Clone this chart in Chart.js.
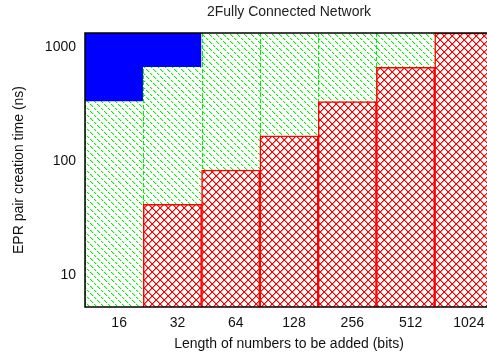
<!DOCTYPE html>
<html>
<head>
<meta charset="utf-8">
<script src="https://cdn.jsdelivr.net/npm/chart.js@4.4.1/dist/chart.umd.min.js"></script>
<style>
  html, body { margin: 0; padding: 0; background: #fff; overflow: hidden; }
  canvas { display: block; }
</style>
</head>
<body>
<canvas id="c" width="500" height="358"></canvas>
<script>
// Bit lengths along the x axis
const categories = ['16', '32', '64', '128', '256', '512', '1024'];
// Bar heights per series (ns); overlapping bars drawn from the axis floor
const redTimes   = [null, 40, 80, 160, 320, 640, 1280];
const greenTimes = [320, 640, 1280, 1280, 1280, 1280, 1280];
const blueTimes  = [1280, 1280, 1280, 1280, 1280, 1280, 1280];
// Y axis range and labelled ticks
const yRange = [5, 1280];
const yTickValues = [10, 100, 1000];

// Builds an opaque (white) pattern tile and lets the caller set pixels on it
function makeTile(size, pixelsFn) {
  const c = document.createElement('canvas');
  c.width = size; c.height = size;
  const g = c.getContext('2d');
  const img = g.createImageData(size, size);
  for (let i = 0; i < img.data.length; i++) img.data[i] = 255;
  pixelsFn((x, y, r, gg, b) => {
    x = ((x % size) + size) % size; y = ((y % size) + size) % size;
    const i = (y * size + x) * 4;
    img.data[i] = r; img.data[i + 1] = gg; img.data[i + 2] = b; img.data[i + 3] = 255;
  });
  g.putImageData(img, 0, 0);
  return c;
}

const ctx = document.getElementById('c').getContext('2d');

// Dotted diagonal green hatch
const greenTile = makeTile(7, set => {
  for (let i = 0; i < 7; i++) {
    if (i % 3 === 2) continue;
    set(i, i, 0, 235, 0);
    set(i + 1, i, 190, 255, 190);
  }
});
// Red cross hatch
const redTile = makeTile(8, set => {
  for (let i = 0; i < 8; i++) {
    set(i + 1, i, 255, 130, 130);
    set(i + 1, 7 - i, 255, 130, 130);
  }
  for (let i = 0; i < 8; i++) {
    set(i, i, 255, 0, 0);
    set(i, 7 - i, 255, 0, 0);
  }
});
const greenPattern = ctx.createPattern(greenTile, 'repeat');
const redPattern = ctx.createPattern(redTile, 'repeat');

// Dashed green edges for the green bars, drawn right after that dataset
const greenEdges = {
  id: 'greenEdges',
  afterDatasetDraw(chart, args) {
    if (args.index !== 1) return;
    const c = chart.ctx;
    const area = chart.chartArea;
    c.save();
    c.beginPath();
    c.rect(area.left, area.top, area.right - area.left, area.bottom - area.top);
    c.clip();
    c.strokeStyle = '#00ee00';
    c.lineWidth = 1;
    c.setLineDash([4, 2]);
    args.meta.data.forEach(bar => {
      const p = bar.getProps(['x', 'y', 'base', 'width'], true);
      [p.x - p.width / 2, p.x + p.width / 2].forEach(ex => {
        const xx = Math.round(ex) + 0.5;
        c.beginPath();
        c.moveTo(xx, p.base);
        c.lineTo(xx, p.y);
        c.stroke();
      });
    });
    c.restore();
  }
};

// Black frame around the plot area
const frame = {
  id: 'frame',
  afterDatasetsDraw(chart) {
    const c = chart.ctx;
    const a = chart.chartArea;
    c.save();
    c.strokeStyle = '#000';
    c.lineWidth = 1.5;
    c.strokeRect(a.left, a.top, a.right - a.left, a.bottom - a.top);
    c.restore();
  }
};

const font = 'Liberation Sans, Arial, Helvetica, sans-serif';

new Chart(ctx, {
  type: 'bar',
  data: {
    labels: categories,
    datasets: [
      { label: 'red', data: redTimes, backgroundColor: redPattern, borderColor: '#ff0000', borderWidth: 1.5, grouped: false, barPercentage: 1, categoryPercentage: 1 },
      { label: 'green', data: greenTimes, backgroundColor: greenPattern, borderWidth: 0, grouped: false, barPercentage: 1, categoryPercentage: 1 },
      { label: 'blue', data: blueTimes, backgroundColor: '#0000ff', borderWidth: 0, grouped: false, barPercentage: 1, categoryPercentage: 1 }
    ]
  },
  options: {
    responsive: false,
    animation: false,
    layout: { padding: { left: 0, right: 7, top: 0, bottom: 0 } },
    plugins: {
      legend: { display: false },
      tooltip: { enabled: false },
      title: {
        display: true,
        text: '2Fully Connected Network',
        fullSize: false,
        color: '#222',
        font: { family: font, size: 14, weight: 'normal', lineHeight: 1.2 },
        padding: { top: 4, bottom: 12.2 }
      }
    },
    scales: {
      x: {
        grid: { display: false, drawTicks: false },
        border: { display: false },
        ticks: { color: '#111', font: { family: font, size: 14 }, padding: 8, labelOffset: 5, maxRotation: 0 },
        title: { display: true, text: 'Length of numbers to be added (bits)', color: '#111', font: { family: font, size: 14 }, padding: { top: 0, bottom: 5.6 } },
        afterFit(s) { s.height = 51; }
      },
      y: {
        type: 'logarithmic',
        min: yRange[0],
        max: yRange[1],
        grid: { display: false, drawTicks: false },
        border: { display: false },
        afterBuildTicks(s) { s.ticks = yTickValues.map(v => ({ value: v })); },
        ticks: { color: '#111', font: { family: font, size: 14 }, padding: 9, labelOffset: 2, callback: v => String(v) },
        title: { display: true, text: 'EPR pair creation time (ns)', color: '#111', font: { family: font, size: 14 }, padding: { top: 11, bottom: 0 } },
        afterFit(s) { s.width = 85; }
      }
    }
  },
  plugins: [greenEdges, frame]
});
</script>
</body>
</html>
